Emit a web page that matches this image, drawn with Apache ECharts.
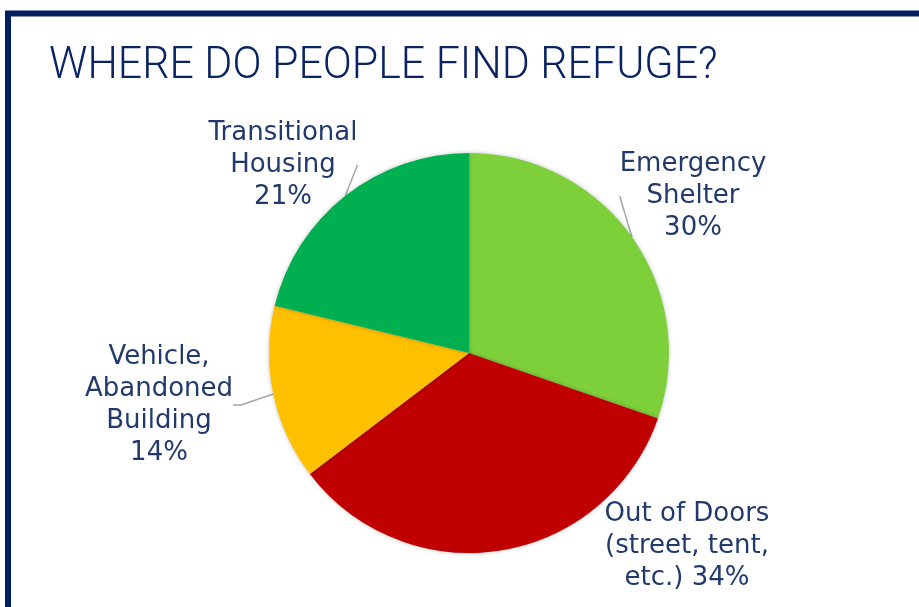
<!DOCTYPE html>
<html>
<head>
<meta charset="utf-8">
<script src="https://cdn.jsdelivr.net/npm/echarts@6/dist/echarts.min.js"></script>
<style>
html,body{margin:0;padding:0;background:#fff;}
#c{width:919px;height:607px;}
</style>
</head>
<body>
<div id="c"></div>
<script>
const titleText = 'WHERE DO PEOPLE FIND REFUGE?';
const categories = ['Emergency\nShelter', 'Out of Doors\n(street, tent,\netc.)', 'Vehicle,\nAbandoned\nBuilding', 'Transitional\nHousing'];
const values = [30, 34, 14, 21];
const labelJoin = ['\n', ' ', '\n', '\n'];
const colors = ['#7ED03B', '#C00000', '#FFC000', '#00B050'];
const labelPos = [[693, 196], [687, 546], [159, 405], [283, 165]];
const showLine = [true, false, true, true];

const chart = echarts.init(document.getElementById('c'), null, {renderer: 'canvas'});
chart.setOption({
  animation: false,
  graphic: [{
    type: 'rect',
    shape: {x: 8, y: 13.5, width: 1000, height: 700},
    style: {fill: 'none', stroke: '#002060', lineWidth: 6},
    silent: true
  }, {
    type: 'text',
    x: 49,
    y: 67,
    scaleX: 0.975,
    style: {
      text: titleText,
      fontFamily: 'Roboto',
      fontWeight: 300,
      fontSize: 44,
      fill: '#0A2463',
      verticalAlign: 'middle',
      align: 'left'
    },
    silent: true
  }],
  series: [{
    type: 'pie',
    center: [469, 353],
    radius: 200,
    startAngle: 90,
    clockwise: true,
    data: categories.map((c, i) => ({
      name: c, value: values[i],
      itemStyle: {color: colors[i]},
      labelLine: {show: showLine[i]}
    })),
    itemStyle: {shadowBlur: 4, shadowColor: 'rgba(0,0,0,0.25)'},
    label: {
      show: true,
      position: 'outside',
      formatter: p => p.name + labelJoin[p.dataIndex] + p.value + '%',
      fontFamily: 'DejaVu Sans',
      fontSize: 26,
      lineHeight: 32,
      color: '#22396B',
      align: 'center'
    },
    labelLine: {
      show: true,
      length: 8,
      length2: 8,
      lineStyle: {color: '#A6A6A6', width: 1.5}
    },
    labelLayout: p => ({
      x: labelPos[p.dataIndex][0],
      y: labelPos[p.dataIndex][1],
      align: 'center',
      verticalAlign: 'middle'
    })
  }]
});
</script>
</body>
</html>
